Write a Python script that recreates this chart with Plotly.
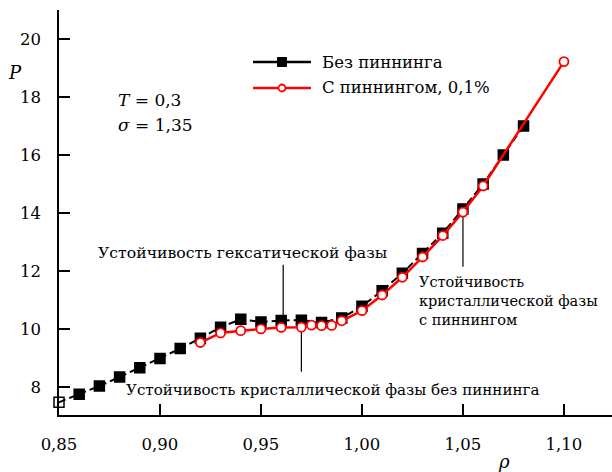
import plotly.graph_objects as go

# Pressure vs density, no pinning
rho_free = [0.85, 0.86, 0.87, 0.88, 0.89, 0.90, 0.91, 0.92, 0.93, 0.94, 0.95, 0.96,
            0.97, 0.98, 0.99, 1.00, 1.01, 1.02, 1.03, 1.04, 1.05, 1.06, 1.07, 1.08]
p_free = [7.47, 7.75, 8.03, 8.34, 8.66, 8.98, 9.32, 9.68, 10.06, 10.33, 10.24, 10.29,
          10.30, 10.22, 10.38, 10.78, 11.32, 11.92, 12.60, 13.30, 14.14, 15.00, 16.00, 17.00]

# Pressure vs density, 0.1% pinned particles
rho_pin = [0.92, 0.93, 0.94, 0.95, 0.96, 0.97, 0.975, 0.98, 0.985, 0.99,
           1.00, 1.01, 1.02, 1.03, 1.04, 1.05, 1.06, 1.10]
p_pin = [9.53, 9.86, 9.94, 10.00, 10.05, 10.06, 10.13, 10.11, 10.12, 10.28,
         10.63, 11.17, 11.78, 12.48, 13.22, 14.03, 14.93, 19.22]

x_ticks = [0.85, 0.90, 0.95, 1.00, 1.05, 1.10]
y_ticks = [8, 10, 12, 14, 16, 18, 20]

legend_names = ["Без пиннинга", "С пиннингом, 0,1%"]

# Stability points marked by leader lines: (rho, P at mark, P at line end)
hexatic_mark = (0.961, 10.29, 12.21)
crystal_free_mark = (0.97, 10.06, 8.52)
crystal_pin_mark = (1.05, 14.03, 12.14)

FONT = "DejaVu Serif"
W, H = 612, 472
ML, MR, MT, MB = 59, 0, 10, 57
X_RANGE = [0.85, 1.1238]
Y_RANGE = [7.03, 21.0]

fig = go.Figure()

fig.add_trace(go.Scatter(
    x=rho_free, y=p_free, mode="lines+markers", cliponaxis=False,
    line=dict(color="black", width=2, dash="7px,4px"),
    marker=dict(symbol=["square-open"] + ["square"] * (len(rho_free) - 1),
                size=10, color="black", line=dict(color="black", width=1.5)),
    showlegend=False,
))
fig.add_trace(go.Scatter(
    x=rho_pin, y=p_pin, mode="lines+markers", cliponaxis=False,
    line=dict(color="red", width=2.5),
    marker=dict(symbol="circle", size=9, color="white",
                line=dict(color="red", width=1.8)),
    showlegend=False,
))

shapes = []
annotations = []

# leader lines
for xm, y0, y1 in (hexatic_mark, crystal_free_mark, crystal_pin_mark):
    shapes.append(dict(type="line", xref="x", yref="y", x0=xm, x1=xm, y0=y0, y1=y1,
                       line=dict(color="black", width=1.2), layer="below"))

def px_to_paper(px, py):
    return (px - ML) / (W - ML - MR), (H - MB - py) / (H - MT - MB)

# hand-drawn legend block
leg_rows = [(62, "black", "square", 9), (88, "red", "circle", 7)]
for (py, col, sym, sz), name in zip(leg_rows, legend_names):
    x0, yy = px_to_paper(253, py)
    x1, _ = px_to_paper(311, py)
    xc, _ = px_to_paper(282, py)
    shapes.append(dict(type="line", xref="paper", yref="paper", x0=x0, x1=x1, y0=yy, y1=yy,
                       line=dict(color=col, width=2.5)))
    hw = sz / 2 / (W - ML - MR)
    hh = sz / 2 / (H - MT - MB)
    if sym == "square":
        shapes.append(dict(type="rect", xref="paper", yref="paper",
                           x0=xc - hw, x1=xc + hw, y0=yy - hh, y1=yy + hh,
                           fillcolor="black", line=dict(color="black", width=1)))
    else:
        shapes.append(dict(type="circle", xref="paper", yref="paper",
                           x0=xc - hw, x1=xc + hw, y0=yy - hh, y1=yy + hh,
                           fillcolor="white", line=dict(color="red", width=1.8)))
    tx, ty = px_to_paper(320, py)
    annotations.append(dict(xref="paper", yref="paper", x=tx, y=ty, text=name,
                            showarrow=False, xanchor="left", yanchor="middle",
                            font=dict(family=FONT, size=16.5, color="black")))

def label(px, py, text, size=16, xanchor="left"):
    xp, yp = px_to_paper(px, py)
    annotations.append(dict(xref="paper", yref="paper", x=xp, y=yp, text=text,
                            showarrow=False, xanchor=xanchor, yanchor="middle",
                            font=dict(family=FONT, size=size, color="black")))

label(116, 100, "<i>T</i> = 0,3", 17)
label(116, 125, "<i>σ</i> = 1,35", 17)
label(15, 72, "<i>P</i>", 18, "center")
label(504, 461, "<i>ρ</i>", 18, "center")

label(96, 252, "Устойчивость гексатической фазы", 15.7)
label(124, 390, "Устойчивость кристаллической фазы без пиннинга", 15.1)
label(417, 282, "Устойчивость", 14.5)
label(417, 301, "кристаллической фазы", 14.5)
label(417, 320, "с пиннингом", 14.5)

fig.update_layout(
    width=W, height=H,
    margin=dict(l=ML, r=MR, t=MT, b=MB, pad=0),
    paper_bgcolor="white", plot_bgcolor="white",
    separators=", ",
    font=dict(family=FONT, size=17, color="black"),
    shapes=shapes, annotations=annotations,
    showlegend=False,
)
fig.update_xaxes(
    range=X_RANGE, tickvals=x_ticks, tickformat=".2f",
    showgrid=False, zeroline=False, showline=True, linecolor="black", linewidth=1.5,
    ticks="inside", ticklen=11, tickwidth=1.5, tickcolor="black",
    ticklabelstandoff=13, tickfont=dict(family=FONT, size=16.5),
)
fig.update_yaxes(
    range=Y_RANGE, tickvals=y_ticks,
    showgrid=False, zeroline=False, showline=True, linecolor="black", linewidth=1.5,
    ticks="inside", ticklen=11, tickwidth=1.5, tickcolor="black",
    ticklabelstandoff=13, tickfont=dict(family=FONT, size=16.5),
)

fig.write_html("out.html")
